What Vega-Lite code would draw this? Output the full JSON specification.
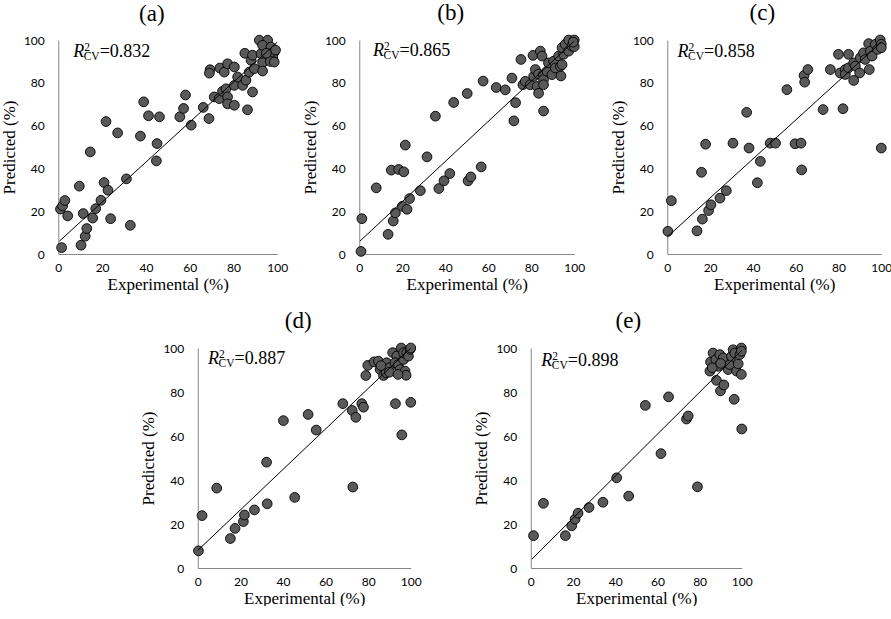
{
  "$schema": "https://vega.github.io/schema/vega-lite/v6.json",
  "padding": {"left": 0, "top": 2, "right": 0, "bottom": 0},
  "background": "white",
  "datasets": {
    "pts": [
      {"panel": "a", "exp": 1.5, "pred": 3}, {"panel": "a", "exp": 1, "pred": 21}, {"panel": "a", "exp": 2, "pred": 22.5}, {"panel": "a", "exp": 3, "pred": 25},
      {"panel": "a", "exp": 4.3, "pred": 17.8}, {"panel": "a", "exp": 9.6, "pred": 31.7}, {"panel": "a", "exp": 10.4, "pred": 4.1}, {"panel": "a", "exp": 12.3, "pred": 8.3},
      {"panel": "a", "exp": 13, "pred": 11.9}, {"panel": "a", "exp": 11.4, "pred": 18.9}, {"panel": "a", "exp": 14.6, "pred": 47.7}, {"panel": "a", "exp": 15.7, "pred": 16.8},
      {"panel": "a", "exp": 17.1, "pred": 21.2}, {"panel": "a", "exp": 19.5, "pred": 25.1}, {"panel": "a", "exp": 20.9, "pred": 33.4}, {"panel": "a", "exp": 22.7, "pred": 29.8},
      {"panel": "a", "exp": 21.8, "pred": 61.9}, {"panel": "a", "exp": 23.9, "pred": 16.5}, {"panel": "a", "exp": 27.1, "pred": 56.6}, {"panel": "a", "exp": 31.1, "pred": 35.1},
      {"panel": "a", "exp": 32.9, "pred": 13.4}, {"panel": "a", "exp": 37.5, "pred": 55.1}, {"panel": "a", "exp": 39, "pred": 71.1}, {"panel": "a", "exp": 41.2, "pred": 64.6},
      {"panel": "a", "exp": 45.1, "pred": 51.6}, {"panel": "a", "exp": 44.8, "pred": 43.5}, {"panel": "a", "exp": 46.2, "pred": 64.1}, {"panel": "a", "exp": 55.5, "pred": 64.1},
      {"panel": "a", "exp": 57.2, "pred": 68}, {"panel": "a", "exp": 58.1, "pred": 74.3}, {"panel": "a", "exp": 60.7, "pred": 60.2}, {"panel": "a", "exp": 66.2, "pred": 68.5},
      {"panel": "a", "exp": 68.8, "pred": 63.3}, {"panel": "a", "exp": 69.3, "pred": 86.1}, {"panel": "a", "exp": 69, "pred": 84.5}, {"panel": "a", "exp": 71.2, "pred": 73.4},
      {"panel": "a", "exp": 73.5, "pred": 72.6}, {"panel": "a", "exp": 73.8, "pred": 86.9}, {"panel": "a", "exp": 75.8, "pred": 85}, {"panel": "a", "exp": 77.3, "pred": 88.9},
      {"panel": "a", "exp": 80.4, "pred": 87.4}, {"panel": "a", "exp": 75, "pred": 76}, {"panel": "a", "exp": 76.6, "pred": 77.2}, {"panel": "a", "exp": 77.3, "pred": 73.4},
      {"panel": "a", "exp": 77.3, "pred": 70.2}, {"panel": "a", "exp": 80.4, "pred": 69.5}, {"panel": "a", "exp": 80.4, "pred": 78.8}, {"panel": "a", "exp": 81.9, "pred": 82.7},
      {"panel": "a", "exp": 84.2, "pred": 78.8}, {"panel": "a", "exp": 85.7, "pred": 81.2}, {"panel": "a", "exp": 86.4, "pred": 67.4}, {"panel": "a", "exp": 88.7, "pred": 75.7},
      {"panel": "a", "exp": 87.2, "pred": 85}, {"panel": "a", "exp": 85.2, "pred": 93.8}, {"panel": "a", "exp": 88, "pred": 90.5}, {"panel": "a", "exp": 89.5, "pred": 86.6},
      {"panel": "a", "exp": 88.7, "pred": 92.9}, {"panel": "a", "exp": 92.6, "pred": 93.6}, {"panel": "a", "exp": 91.8, "pred": 99.9}, {"panel": "a", "exp": 95.6, "pred": 99.9},
      {"panel": "a", "exp": 93.3, "pred": 97.5}, {"panel": "a", "exp": 97.1, "pred": 96.7}, {"panel": "a", "exp": 98.6, "pred": 94.4}, {"panel": "a", "exp": 97.9, "pred": 92.1},
      {"panel": "a", "exp": 96.3, "pred": 92.5}, {"panel": "a", "exp": 93.3, "pred": 89.4}, {"panel": "a", "exp": 96.8, "pred": 90}, {"panel": "a", "exp": 93.3, "pred": 85.5},
      {"panel": "a", "exp": 98.6, "pred": 89.7}, {"panel": "a", "exp": 99.2, "pred": 95.3}, {"panel": "a", "exp": 95, "pred": 93.8},

      {"panel": "b", "exp": 0.8, "pred": 1.2}, {"panel": "b", "exp": 1.2, "pred": 16.5}, {"panel": "b", "exp": 7.9, "pred": 30.9}, {"panel": "b", "exp": 13.4, "pred": 9.2},
      {"panel": "b", "exp": 14.9, "pred": 39.2}, {"panel": "b", "exp": 15.8, "pred": 15.4}, {"panel": "b", "exp": 16.8, "pred": 19.2}, {"panel": "b", "exp": 18.3, "pred": 39.5},
      {"panel": "b", "exp": 20.7, "pred": 38.4}, {"panel": "b", "exp": 20, "pred": 22.3}, {"panel": "b", "exp": 21.4, "pred": 50.9}, {"panel": "b", "exp": 22.2, "pred": 20.9},
      {"panel": "b", "exp": 23.4, "pred": 25.9}, {"panel": "b", "exp": 28.4, "pred": 29.6}, {"panel": "b", "exp": 31.5, "pred": 45.4}, {"panel": "b", "exp": 35.4, "pred": 64.4},
      {"panel": "b", "exp": 37, "pred": 30.6}, {"panel": "b", "exp": 39.4, "pred": 34.2}, {"panel": "b", "exp": 42.1, "pred": 37.6}, {"panel": "b", "exp": 43.9, "pred": 70.8},
      {"panel": "b", "exp": 50.2, "pred": 75}, {"panel": "b", "exp": 50.6, "pred": 34.2}, {"panel": "b", "exp": 51.9, "pred": 36}, {"panel": "b", "exp": 56.7, "pred": 40.7},
      {"panel": "b", "exp": 57.6, "pred": 80.8}, {"panel": "b", "exp": 63.7, "pred": 77.8}, {"panel": "b", "exp": 67.9, "pred": 76.7}, {"panel": "b", "exp": 71, "pred": 82.2},
      {"panel": "b", "exp": 71.9, "pred": 62.2}, {"panel": "b", "exp": 72.7, "pred": 70.7}, {"panel": "b", "exp": 75.2, "pred": 90.9}, {"panel": "b", "exp": 76.1, "pred": 79.1},
      {"panel": "b", "exp": 77.2, "pred": 80.7}, {"panel": "b", "exp": 79.5, "pred": 79.1}, {"panel": "b", "exp": 80.8, "pred": 92.8}, {"panel": "b", "exp": 81.1, "pred": 83},
      {"panel": "b", "exp": 81.9, "pred": 86.2}, {"panel": "b", "exp": 82.7, "pred": 78.3}, {"panel": "b", "exp": 83.4, "pred": 84.1}, {"panel": "b", "exp": 83.4, "pred": 75.1},
      {"panel": "b", "exp": 84.2, "pred": 94.8}, {"panel": "b", "exp": 85, "pred": 92.5}, {"panel": "b", "exp": 85.7, "pred": 83.8}, {"panel": "b", "exp": 85.7, "pred": 81.5},
      {"panel": "b", "exp": 85.7, "pred": 79.1}, {"panel": "b", "exp": 85.7, "pred": 66.8}, {"panel": "b", "exp": 87.3, "pred": 85.4}, {"panel": "b", "exp": 88, "pred": 89.3},
      {"panel": "b", "exp": 89.6, "pred": 83.8}, {"panel": "b", "exp": 90.4, "pred": 90.1}, {"panel": "b", "exp": 91.2, "pred": 86.9}, {"panel": "b", "exp": 92.7, "pred": 92.5},
      {"panel": "b", "exp": 93.5, "pred": 87.7}, {"panel": "b", "exp": 93.8, "pred": 83.2}, {"panel": "b", "exp": 94.3, "pred": 88.5}, {"panel": "b", "exp": 95, "pred": 93.3},
      {"panel": "b", "exp": 94.3, "pred": 96.4}, {"panel": "b", "exp": 95.8, "pred": 98}, {"panel": "b", "exp": 97.4, "pred": 94.8}, {"panel": "b", "exp": 97.4, "pred": 100},
      {"panel": "b", "exp": 98.9, "pred": 97.2}, {"panel": "b", "exp": 100, "pred": 100}, {"panel": "b", "exp": 100, "pred": 96.9}, {"panel": "b", "exp": 99.5, "pred": 99},

      {"panel": "c", "exp": 0.3, "pred": 10.6}, {"panel": "c", "exp": 1.9, "pred": 24.9}, {"panel": "c", "exp": 13.9, "pred": 10.8}, {"panel": "c", "exp": 16, "pred": 38.2},
      {"panel": "c", "exp": 16.4, "pred": 16.3}, {"panel": "c", "exp": 17.9, "pred": 51.3}, {"panel": "c", "exp": 19.3, "pred": 20.3}, {"panel": "c", "exp": 20.4, "pred": 23},
      {"panel": "c", "exp": 24.6, "pred": 26.1}, {"panel": "c", "exp": 27.6, "pred": 29.6}, {"panel": "c", "exp": 30.7, "pred": 51.8}, {"panel": "c", "exp": 37.1, "pred": 66.2},
      {"panel": "c", "exp": 38.2, "pred": 49.5}, {"panel": "c", "exp": 42.1, "pred": 33.3}, {"panel": "c", "exp": 43.5, "pred": 43.3}, {"panel": "c", "exp": 48.1, "pred": 51.8},
      {"panel": "c", "exp": 50.6, "pred": 51.8}, {"panel": "c", "exp": 55.9, "pred": 76.8}, {"panel": "c", "exp": 59.7, "pred": 51.5}, {"panel": "c", "exp": 62.5, "pred": 51.8},
      {"panel": "c", "exp": 62.8, "pred": 39.3}, {"panel": "c", "exp": 63.9, "pred": 83.4}, {"panel": "c", "exp": 64.2, "pred": 80.3}, {"panel": "c", "exp": 65.7, "pred": 86.2},
      {"panel": "c", "exp": 72.8, "pred": 67.5}, {"panel": "c", "exp": 76.2, "pred": 86.2}, {"panel": "c", "exp": 80, "pred": 93.3}, {"panel": "c", "exp": 80.8, "pred": 84.6},
      {"panel": "c", "exp": 82.1, "pred": 67.9}, {"panel": "c", "exp": 83.2, "pred": 86.2}, {"panel": "c", "exp": 83.2, "pred": 83.9}, {"panel": "c", "exp": 84.7, "pred": 93.3},
      {"panel": "c", "exp": 84.7, "pred": 87}, {"panel": "c", "exp": 87.1, "pred": 89.3}, {"panel": "c", "exp": 87.9, "pred": 87.8}, {"panel": "c", "exp": 87.1, "pred": 81.1},
      {"panel": "c", "exp": 89.9, "pred": 84.6}, {"panel": "c", "exp": 90.2, "pred": 91.7}, {"panel": "c", "exp": 91.7, "pred": 94}, {"panel": "c", "exp": 92.5, "pred": 90.9},
      {"panel": "c", "exp": 94.1, "pred": 98.3}, {"panel": "c", "exp": 94.9, "pred": 94.8}, {"panel": "c", "exp": 95.7, "pred": 92.5}, {"panel": "c", "exp": 94.4, "pred": 86.2},
      {"panel": "c", "exp": 97.2, "pred": 98}, {"panel": "c", "exp": 98.3, "pred": 95.6}, {"panel": "c", "exp": 99.5, "pred": 100}, {"panel": "c", "exp": 100, "pred": 98},
      {"panel": "c", "exp": 100, "pred": 96.4}, {"panel": "c", "exp": 100, "pred": 49.5},

      {"panel": "d", "exp": 0.3, "pred": 7.8}, {"panel": "d", "exp": 2, "pred": 23.8}, {"panel": "d", "exp": 8.9, "pred": 36.3}, {"panel": "d", "exp": 15.3, "pred": 13.4},
      {"panel": "d", "exp": 17.5, "pred": 18}, {"panel": "d", "exp": 21.4, "pred": 21.1}, {"panel": "d", "exp": 21.9, "pred": 24.1}, {"panel": "d", "exp": 26.6, "pred": 26.4},
      {"panel": "d", "exp": 32.6, "pred": 29.2}, {"panel": "d", "exp": 32.3, "pred": 48.1}, {"panel": "d", "exp": 40.2, "pred": 67}, {"panel": "d", "exp": 45.5, "pred": 32.1},
      {"panel": "d", "exp": 51.8, "pred": 69.8}, {"panel": "d", "exp": 55.6, "pred": 62.7}, {"panel": "d", "exp": 68.1, "pred": 74.7}, {"panel": "d", "exp": 72.5, "pred": 71.6},
      {"panel": "d", "exp": 72.8, "pred": 36.8}, {"panel": "d", "exp": 74.2, "pred": 68.5}, {"panel": "d", "exp": 77, "pred": 74.7}, {"panel": "d", "exp": 77.8, "pred": 73.1},
      {"panel": "d", "exp": 78.9, "pred": 87.5}, {"panel": "d", "exp": 79.8, "pred": 92.1}, {"panel": "d", "exp": 82.8, "pred": 93.7}, {"panel": "d", "exp": 84.8, "pred": 94},
      {"panel": "d", "exp": 85.6, "pred": 90.2}, {"panel": "d", "exp": 87.2, "pred": 87.5}, {"panel": "d", "exp": 88.4, "pred": 88.7}, {"panel": "d", "exp": 88.7, "pred": 93.3},
      {"panel": "d", "exp": 90, "pred": 91}, {"panel": "d", "exp": 91.5, "pred": 97.9}, {"panel": "d", "exp": 92.8, "pred": 74.7}, {"panel": "d", "exp": 93.4, "pred": 96.3},
      {"panel": "d", "exp": 92.6, "pred": 93.3}, {"panel": "d", "exp": 94.2, "pred": 92.5}, {"panel": "d", "exp": 95, "pred": 90.2}, {"panel": "d", "exp": 95.5, "pred": 100},
      {"panel": "d", "exp": 95.8, "pred": 60.5}, {"panel": "d", "exp": 96.6, "pred": 94.8}, {"panel": "d", "exp": 96.6, "pred": 97.9}, {"panel": "d", "exp": 97.3, "pred": 89.5},
      {"panel": "d", "exp": 97.8, "pred": 87.6}, {"panel": "d", "exp": 98.1, "pred": 97.9}, {"panel": "d", "exp": 98.9, "pred": 96.3}, {"panel": "d", "exp": 99.7, "pred": 99.4},
      {"panel": "d", "exp": 100, "pred": 100}, {"panel": "d", "exp": 100, "pred": 75.3}, {"panel": "d", "exp": 86, "pred": 92}, {"panel": "d", "exp": 90, "pred": 89},
      {"panel": "d", "exp": 94, "pred": 88},

      {"panel": "e", "exp": 1.3, "pred": 14.7}, {"panel": "e", "exp": 6, "pred": 29.4}, {"panel": "e", "exp": 16.4, "pred": 14.7}, {"panel": "e", "exp": 19.4, "pred": 19.2},
      {"panel": "e", "exp": 21, "pred": 22.2}, {"panel": "e", "exp": 22.4, "pred": 24.9}, {"panel": "e", "exp": 27.6, "pred": 27.5}, {"panel": "e", "exp": 34.2, "pred": 29.9},
      {"panel": "e", "exp": 40.7, "pred": 41}, {"panel": "e", "exp": 46.4, "pred": 32.7}, {"panel": "e", "exp": 54.3, "pred": 73.9}, {"panel": "e", "exp": 61.7, "pred": 52},
      {"panel": "e", "exp": 65.3, "pred": 77.8}, {"panel": "e", "exp": 73.8, "pred": 67.7}, {"panel": "e", "exp": 74.6, "pred": 69.1}, {"panel": "e", "exp": 79, "pred": 36.9},
      {"panel": "e", "exp": 84.9, "pred": 89.5}, {"panel": "e", "exp": 85.2, "pred": 93.7}, {"panel": "e", "exp": 86.4, "pred": 97.7}, {"panel": "e", "exp": 87.7, "pred": 94.7},
      {"panel": "e", "exp": 88, "pred": 85.3}, {"panel": "e", "exp": 88.8, "pred": 91.7}, {"panel": "e", "exp": 89.6, "pred": 97}, {"panel": "e", "exp": 89.9, "pred": 80.5},
      {"panel": "e", "exp": 91.5, "pred": 83.2}, {"panel": "e", "exp": 91.2, "pred": 95.5}, {"panel": "e", "exp": 93.5, "pred": 90.2}, {"panel": "e", "exp": 94.3, "pred": 92.5},
      {"panel": "e", "exp": 95.1, "pred": 96.2}, {"panel": "e", "exp": 95.9, "pred": 99.2}, {"panel": "e", "exp": 96.4, "pred": 76.7}, {"panel": "e", "exp": 96.7, "pred": 97.7},
      {"panel": "e", "exp": 97.5, "pred": 89.5}, {"panel": "e", "exp": 98.3, "pred": 92.8}, {"panel": "e", "exp": 99.1, "pred": 97}, {"panel": "e", "exp": 99.8, "pred": 100},
      {"panel": "e", "exp": 99.8, "pred": 98.5}, {"panel": "e", "exp": 99.8, "pred": 88}, {"panel": "e", "exp": 100, "pred": 63.2}, {"panel": "e", "exp": 86, "pred": 91},
      {"panel": "e", "exp": 90, "pred": 93}
    ],
    "fit": [
      {"panel": "a", "exp": 0.5, "pred": 6}, {"panel": "a", "exp": 100, "pred": 99},
      {"panel": "b", "exp": 0.3, "pred": 6}, {"panel": "b", "exp": 100, "pred": 99.5},
      {"panel": "c", "exp": 0, "pred": 8}, {"panel": "c", "exp": 100, "pred": 99},
      {"panel": "d", "exp": 0, "pred": 8}, {"panel": "d", "exp": 100, "pred": 100},
      {"panel": "e", "exp": 0.5, "pred": 4}, {"panel": "e", "exp": 100, "pred": 99}
    ],
    "notes": [
      {"panel": "a", "r2": "=0.832"}, {"panel": "b", "r2": "=0.865"}, {"panel": "c", "r2": "=0.858"},
      {"panel": "d", "r2": "=0.887"}, {"panel": "e", "r2": "=0.898"}
    ]
  },
  "vconcat": [
    {
      "hconcat": [
        {
          "hconcat": [
            {
              "title": {"text": "(a)", "dx": -16},
              "width": 219, "height": 214,
              "layer": [
                {"data": {"name": "pts"}, "transform": [{"filter": "datum.panel == 'a'"}], "mark": {"type": "circle", "size": 95, "fill": "#595959", "stroke": "#000", "strokeWidth": 0.9, "opacity": 1},
                 "encoding": {
                   "x": {"field": "exp", "type": "quantitative", "scale": {"domain": [0, 100], "nice": false}, "axis": {"values": [0, 20, 40, 60, 80, 100], "title": "Experimental (%)"}},
                   "y": {"field": "pred", "type": "quantitative", "scale": {"domain": [0, 100], "nice": false}, "axis": {"values": [0, 20, 40, 60, 80, 100], "title": "Predicted (%)"}}}},
                {"data": {"name": "fit"}, "transform": [{"filter": "datum.panel == 'a'"}], "mark": {"type": "line", "color": "#000", "strokeWidth": 1},
                 "encoding": {"x": {"field": "exp", "type": "quantitative", "title": "Experimental (%)"}, "y": {"field": "pred", "type": "quantitative", "title": "Predicted (%)"}}},
                {"data": {"name": "notes"}, "transform": [{"filter": "datum.panel == 'a'"}], "mark": {"type": "text", "text": "R", "font": "Liberation Serif", "fontStyle": "italic", "fontSize": 18, "align": "left", "baseline": "alphabetic", "color": "#000"}, "encoding": {"x": {"datum": 6.8}, "y": {"datum": 92}}},
                {"data": {"name": "notes"}, "transform": [{"filter": "datum.panel == 'a'"}], "mark": {"type": "text", "text": "2", "font": "Liberation Serif", "fontSize": 11.5, "align": "left", "baseline": "alphabetic", "dx": 11, "dy": -6, "color": "#000"}, "encoding": {"x": {"datum": 6.8}, "y": {"datum": 92}}},
                {"data": {"name": "notes"}, "transform": [{"filter": "datum.panel == 'a'"}], "mark": {"type": "text", "text": "CV", "font": "Liberation Serif", "fontSize": 11.5, "align": "left", "baseline": "alphabetic", "dx": 10.5, "dy": 3, "color": "#000"}, "encoding": {"x": {"datum": 6.8}, "y": {"datum": 92}}},
                {"data": {"name": "notes"}, "transform": [{"filter": "datum.panel == 'a'"}], "mark": {"type": "text", "font": "Liberation Serif", "fontSize": 18, "align": "left", "baseline": "alphabetic", "dx": 26.5, "color": "#000"}, "encoding": {"x": {"datum": 6.8}, "y": {"datum": 92}, "text": {"field": "r2"}}}
              ]
            },
            {
              "title": {"text": "(b)", "dx": -16},
              "width": 215, "height": 214,
              "layer": [
                {"data": {"name": "pts"}, "transform": [{"filter": "datum.panel == 'b'"}], "mark": {"type": "circle", "size": 95, "fill": "#595959", "stroke": "#000", "strokeWidth": 0.9, "opacity": 1},
                 "encoding": {
                   "x": {"field": "exp", "type": "quantitative", "scale": {"domain": [0, 100], "nice": false}, "axis": {"values": [0, 20, 40, 60, 80, 100], "title": "Experimental (%)"}},
                   "y": {"field": "pred", "type": "quantitative", "scale": {"domain": [0, 100], "nice": false}, "axis": {"values": [0, 20, 40, 60, 80, 100], "title": "Predicted (%)"}}}},
                {"data": {"name": "fit"}, "transform": [{"filter": "datum.panel == 'b'"}], "mark": {"type": "line", "color": "#000", "strokeWidth": 1},
                 "encoding": {"x": {"field": "exp", "type": "quantitative", "title": "Experimental (%)"}, "y": {"field": "pred", "type": "quantitative", "title": "Predicted (%)"}}},
                {"data": {"name": "notes"}, "transform": [{"filter": "datum.panel == 'b'"}], "mark": {"type": "text", "text": "R", "font": "Liberation Serif", "fontStyle": "italic", "fontSize": 18, "align": "left", "baseline": "alphabetic", "color": "#000"}, "encoding": {"x": {"datum": 6.4}, "y": {"datum": 92.5}}},
                {"data": {"name": "notes"}, "transform": [{"filter": "datum.panel == 'b'"}], "mark": {"type": "text", "text": "2", "font": "Liberation Serif", "fontSize": 11.5, "align": "left", "baseline": "alphabetic", "dx": 11, "dy": -6, "color": "#000"}, "encoding": {"x": {"datum": 6.4}, "y": {"datum": 92.5}}},
                {"data": {"name": "notes"}, "transform": [{"filter": "datum.panel == 'b'"}], "mark": {"type": "text", "text": "CV", "font": "Liberation Serif", "fontSize": 11.5, "align": "left", "baseline": "alphabetic", "dx": 10.5, "dy": 3, "color": "#000"}, "encoding": {"x": {"datum": 6.4}, "y": {"datum": 92.5}}},
                {"data": {"name": "notes"}, "transform": [{"filter": "datum.panel == 'b'"}], "mark": {"type": "text", "font": "Liberation Serif", "fontSize": 18, "align": "left", "baseline": "alphabetic", "dx": 26.5, "color": "#000"}, "encoding": {"x": {"datum": 6.4}, "y": {"datum": 92.5}, "text": {"field": "r2"}}}
              ]
            }
          ],
          "spacing": 13
        },
        {
          "title": {"text": "(c)", "dx": -12},
          "width": 214, "height": 214,
          "layer": [
            {"data": {"name": "pts"}, "transform": [{"filter": "datum.panel == 'c'"}], "mark": {"type": "circle", "size": 95, "fill": "#595959", "stroke": "#000", "strokeWidth": 0.9, "opacity": 1},
             "encoding": {
               "x": {"field": "exp", "type": "quantitative", "scale": {"domain": [0, 100], "nice": false}, "axis": {"values": [0, 20, 40, 60, 80, 100], "title": "Experimental (%)"}},
               "y": {"field": "pred", "type": "quantitative", "scale": {"domain": [0, 100], "nice": false}, "axis": {"values": [0, 20, 40, 60, 80, 100], "title": "Predicted (%)"}}}},
            {"data": {"name": "fit"}, "transform": [{"filter": "datum.panel == 'c'"}], "mark": {"type": "line", "color": "#000", "strokeWidth": 1},
             "encoding": {"x": {"field": "exp", "type": "quantitative", "title": "Experimental (%)"}, "y": {"field": "pred", "type": "quantitative", "title": "Predicted (%)"}}},
            {"data": {"name": "notes"}, "transform": [{"filter": "datum.panel == 'c'"}], "mark": {"type": "text", "text": "R", "font": "Liberation Serif", "fontStyle": "italic", "fontSize": 18, "align": "left", "baseline": "alphabetic", "color": "#000"}, "encoding": {"x": {"datum": 4.8}, "y": {"datum": 92.2}}},
            {"data": {"name": "notes"}, "transform": [{"filter": "datum.panel == 'c'"}], "mark": {"type": "text", "text": "2", "font": "Liberation Serif", "fontSize": 11.5, "align": "left", "baseline": "alphabetic", "dx": 11, "dy": -6, "color": "#000"}, "encoding": {"x": {"datum": 4.8}, "y": {"datum": 92.2}}},
            {"data": {"name": "notes"}, "transform": [{"filter": "datum.panel == 'c'"}], "mark": {"type": "text", "text": "CV", "font": "Liberation Serif", "fontSize": 11.5, "align": "left", "baseline": "alphabetic", "dx": 10.5, "dy": 3, "color": "#000"}, "encoding": {"x": {"datum": 4.8}, "y": {"datum": 92.2}}},
            {"data": {"name": "notes"}, "transform": [{"filter": "datum.panel == 'c'"}], "mark": {"type": "text", "font": "Liberation Serif", "fontSize": 18, "align": "left", "baseline": "alphabetic", "dx": 26.5, "color": "#000"}, "encoding": {"x": {"datum": 4.8}, "y": {"datum": 92.2}, "text": {"field": "r2"}}}
          ]
        }
      ],
      "spacing": 24
    },
    {
      "hconcat": [
        {
          "title": {"text": "(d)", "dx": -6},
          "width": 213, "height": 220,
          "layer": [
            {"data": {"name": "pts"}, "transform": [{"filter": "datum.panel == 'd'"}], "mark": {"type": "circle", "size": 95, "fill": "#595959", "stroke": "#000", "strokeWidth": 0.9, "opacity": 1},
             "encoding": {
               "x": {"field": "exp", "type": "quantitative", "scale": {"domain": [0, 100], "nice": false}, "axis": {"values": [0, 20, 40, 60, 80, 100], "title": "Experimental (%)"}},
               "y": {"field": "pred", "type": "quantitative", "scale": {"domain": [0, 100], "nice": false}, "axis": {"values": [0, 20, 40, 60, 80, 100], "title": "Predicted (%)"}}}},
            {"data": {"name": "fit"}, "transform": [{"filter": "datum.panel == 'd'"}], "mark": {"type": "line", "color": "#000", "strokeWidth": 1},
             "encoding": {"x": {"field": "exp", "type": "quantitative", "title": "Experimental (%)"}, "y": {"field": "pred", "type": "quantitative", "title": "Predicted (%)"}}},
            {"data": {"name": "notes"}, "transform": [{"filter": "datum.panel == 'd'"}], "mark": {"type": "text", "text": "R", "font": "Liberation Serif", "fontStyle": "italic", "fontSize": 18, "align": "left", "baseline": "alphabetic", "color": "#000"}, "encoding": {"x": {"datum": 4.8}, "y": {"datum": 92.7}}},
            {"data": {"name": "notes"}, "transform": [{"filter": "datum.panel == 'd'"}], "mark": {"type": "text", "text": "2", "font": "Liberation Serif", "fontSize": 11.5, "align": "left", "baseline": "alphabetic", "dx": 11, "dy": -6, "color": "#000"}, "encoding": {"x": {"datum": 4.8}, "y": {"datum": 92.7}}},
            {"data": {"name": "notes"}, "transform": [{"filter": "datum.panel == 'd'"}], "mark": {"type": "text", "text": "CV", "font": "Liberation Serif", "fontSize": 11.5, "align": "left", "baseline": "alphabetic", "dx": 10.5, "dy": 3, "color": "#000"}, "encoding": {"x": {"datum": 4.8}, "y": {"datum": 92.7}}},
            {"data": {"name": "notes"}, "transform": [{"filter": "datum.panel == 'd'"}], "mark": {"type": "text", "font": "Liberation Serif", "fontSize": 18, "align": "left", "baseline": "alphabetic", "dx": 26.5, "color": "#000"}, "encoding": {"x": {"datum": 4.8}, "y": {"datum": 92.7}, "text": {"field": "r2"}}}
          ]
        },
        {
          "title": {"text": "(e)", "dx": -8},
          "width": 211, "height": 220,
          "layer": [
            {"data": {"name": "pts"}, "transform": [{"filter": "datum.panel == 'e'"}], "mark": {"type": "circle", "size": 95, "fill": "#595959", "stroke": "#000", "strokeWidth": 0.9, "opacity": 1},
             "encoding": {
               "x": {"field": "exp", "type": "quantitative", "scale": {"domain": [0, 100], "nice": false}, "axis": {"values": [0, 20, 40, 60, 80, 100], "title": "Experimental (%)"}},
               "y": {"field": "pred", "type": "quantitative", "scale": {"domain": [0, 100], "nice": false}, "axis": {"values": [0, 20, 40, 60, 80, 100], "title": "Predicted (%)"}}}},
            {"data": {"name": "fit"}, "transform": [{"filter": "datum.panel == 'e'"}], "mark": {"type": "line", "color": "#000", "strokeWidth": 1},
             "encoding": {"x": {"field": "exp", "type": "quantitative", "title": "Experimental (%)"}, "y": {"field": "pred", "type": "quantitative", "title": "Predicted (%)"}}},
            {"data": {"name": "notes"}, "transform": [{"filter": "datum.panel == 'e'"}], "mark": {"type": "text", "text": "R", "font": "Liberation Serif", "fontStyle": "italic", "fontSize": 18, "align": "left", "baseline": "alphabetic", "color": "#000"}, "encoding": {"x": {"datum": 5}, "y": {"datum": 91.9}}},
            {"data": {"name": "notes"}, "transform": [{"filter": "datum.panel == 'e'"}], "mark": {"type": "text", "text": "2", "font": "Liberation Serif", "fontSize": 11.5, "align": "left", "baseline": "alphabetic", "dx": 11, "dy": -6, "color": "#000"}, "encoding": {"x": {"datum": 5}, "y": {"datum": 91.9}}},
            {"data": {"name": "notes"}, "transform": [{"filter": "datum.panel == 'e'"}], "mark": {"type": "text", "text": "CV", "font": "Liberation Serif", "fontSize": 11.5, "align": "left", "baseline": "alphabetic", "dx": 10.5, "dy": 3, "color": "#000"}, "encoding": {"x": {"datum": 5}, "y": {"datum": 91.9}}},
            {"data": {"name": "notes"}, "transform": [{"filter": "datum.panel == 'e'"}], "mark": {"type": "text", "font": "Liberation Serif", "fontSize": 18, "align": "left", "baseline": "alphabetic", "dx": 26.5, "color": "#000"}, "encoding": {"x": {"datum": 5}, "y": {"datum": 91.9}, "text": {"field": "r2"}}}
          ]
        }
      ],
      "spacing": 51
    }
  ],
  "spacing": 18,
  "center": true,
  "config": {
    "view": {"stroke": null},
    "title": {"font": "Liberation Serif", "fontSize": 23, "fontWeight": "normal", "color": "#000", "offset": 8, "frame": "group", "anchor": "middle"},
    "axis": {
      "domainColor": "#868686",
      "domainWidth": 1,
      "ticks": false,
      "tickSize": 0,
      "grid": false,
      "labelFont": "Lato",
      "labelFontSize": 12,
      "labelColor": "#000",
      "labelFlush": false,
      "labelOverlap": false,
      "titleFont": "Liberation Serif",
      "titleFontSize": 17,
      "titleFontWeight": "normal",
      "titleColor": "#000"
    },
    "axisX": {"labelPadding": 8, "titlePadding": 3},
    "axisY": {"labelPadding": 14, "titlePadding": 5}
  }
}
